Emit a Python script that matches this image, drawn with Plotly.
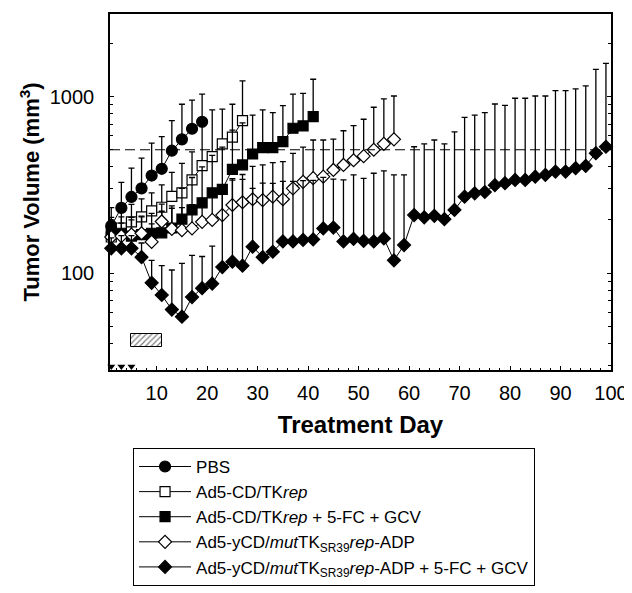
import plotly.graph_objects as go

# ---------------- data ----------------
days_pbs = list(range(1, 20, 2))
pbs_vol = [185, 234, 270, 302, 357, 390, 494, 573, 658, 721]
pbs_err = [50, 93, 123, 146, 188, 203, 237, 333, 299, 312]

days_cdtk = list(range(1, 28, 2))
cdtk_vol = [160, 180, 195, 208, 225, 236, 272, 285, 337, 406, 457, 540, 589, 731]
cdtk_err = [40, 45, 50, 55, 60, 80, 100, 134, 150, 270, 384, 309, 317, 500]

days_cdtk_drug = list(range(1, 42, 2))
cdtk_drug_vol = [172, 168, 162, 165, 168, 169, 180, 202, 228, 250, 285, 298, 387, 410,
                 473, 514, 514, 556, 662, 683, 771]
cdtk_drug_err = [35, 40, 45, 45, 50, 55, 60, 100, 120, 150, 180, 220, 260, 300,
                 314, 327, 298, 333, 371, 362, 485]

days_ycd = list(range(1, 58, 2))
ycd_vol = [160, 162, 165, 168, 150, 196, 178, 175, 179, 195, 200, 213, 243, 252, 262,
           259, 271, 262, 302, 329, 345, 352, 384, 410, 436, 460, 500, 540, 573]
ycd_err = [30, 30, 35, 40, 40, 50, 55, 60, 65, 70, 80, 90, 100, 110, 140,
           151, 152, 166, 175, 188, 223, 216, 191, 231, 249, 285, 371, 431, 436]

days_ycd_drug = list(range(1, 100, 2))
ycd_drug_vol = [138, 138, 138, 123, 88, 75, 62, 56.5, 73, 82,
                87, 108, 116, 110, 141, 123, 132, 151, 151, 154,
                155, 179, 181, 151, 156, 152, 151, 157, 118, 144,
                213, 207, 211, 202, 228, 271, 283, 288, 315, 323,
                337, 337, 352, 360, 376, 376, 393, 405, 478, 520]
ycd_drug_err = [20, 25, 25, 25, 30, 35, 42, 57, 53, 42,
                55, 200, 220, 230, 161, 200, 190, 180, 180, 180,
                180, 170, 160, 186, 204, 192, 217, 223, 242, 216,
                307, 333, 357, 338, 404, 493, 504, 524, 594, 570,
                643, 643, 657, 649, 706, 706, 713, 746, 952, 1025]

injection_days = [1, 3, 5]
injection_marker_level = 29.5
drug_start, drug_end = 5, 11
drug_bar_low, drug_bar_high = 38, 45
threshold = 500

x_tick_vals = list(range(10, 101, 10))
y_tick_vals = [100, 1000]
y_minor_vals = [30, 40, 50, 60, 70, 80, 90, 200, 300, 400, 500, 600, 700, 800, 900, 2000]

names = ["PBS",
         "Ad5-CD/TK<i>rep</i>",
         "Ad5-CD/TK<i>rep</i> + 5-FC + GCV",
         "Ad5-yCD/<i>mut</i>TK<sub>SR39</sub><i>rep</i>-ADP",
         "Ad5-yCD/<i>mut</i>TK<sub>SR39</sub><i>rep</i>-ADP + 5-FC + GCV"]

# ---------------- figure ----------------
fig = go.Figure()

def add_series(x, y, err, name, symbol, fill, size):
    fig.add_trace(go.Scatter(
        x=x, y=y, name=name, mode="lines+markers",
        line=dict(color="black", width=1),
        marker=dict(symbol=symbol, size=size, color=fill,
                    line=dict(color="black", width=1.2)),
        error_y=dict(type="data", symmetric=False, array=err,
                     arrayminus=[0] * len(err), color="black",
                     thickness=1.3, width=3),
        cliponaxis=False,
    ))

add_series(days_pbs, pbs_vol, pbs_err, names[0], "circle", "black", 11)
add_series(days_cdtk, cdtk_vol, cdtk_err, names[1], "square", "white", 10)
add_series(days_cdtk_drug, cdtk_drug_vol, cdtk_drug_err, names[2], "square", "black", 10)
add_series(days_ycd, ycd_vol, ycd_err, names[3], "diamond", "white", 10)
add_series(days_ycd_drug, ycd_drug_vol, ycd_drug_err, names[4], "diamond", "black", 10)

# drug administration period (hatched bar)
fig.add_trace(go.Bar(
    x=[(drug_start + drug_end) / 2], y=[drug_bar_high - drug_bar_low],
    base=[drug_bar_low], width=[drug_end - drug_start],
    marker=dict(color="white", line=dict(color="black", width=1),
                pattern=dict(shape="/", fgcolor="black", bgcolor="white",
                             size=4, solidity=0.3)),
    showlegend=False, hoverinfo="skip",
))

# injection days
fig.add_trace(go.Scatter(
    x=injection_days, y=[injection_marker_level] * len(injection_days),
    mode="markers", marker=dict(symbol="triangle-down", size=7, color="black"),
    showlegend=False, cliponaxis=False,
))

fig.add_hline(y=threshold, line=dict(color="black", width=1.2, dash="10px,5px"))

FONT = "Liberation Sans, Arial, sans-serif"
tick_font = dict(family=FONT, size=20, color="black")

# the page body has an 8px margin, so the figure is 8px smaller than the window
fig.update_layout(
    width=624, height=585,
    margin=dict(l=102, r=21, t=6, b=223, autoexpand=False),
    paper_bgcolor="white", plot_bgcolor="white",
    bargap=0,
    showlegend=True,
    legend=dict(x=0.046, y=-0.219, xanchor="left", yanchor="top",
                bordercolor="black", borderwidth=1, bgcolor="white",
                font=dict(family=FONT, size=17, color="black"),
                itemwidth=52, entrywidth=390, entrywidthmode="pixels",
                tracegroupgap=0),
    xaxis=dict(
        range=[0.75, 100], showgrid=False, zeroline=False, automargin=False,
        showline=True, linecolor="black", linewidth=1.5, mirror=True,
        tickmode="array", tickvals=x_tick_vals,
        ticks="inside", ticklen=4, tickcolor="black",
        minor=dict(ticks="inside", ticklen=2, dtick=2, tick0=0, tickcolor="black"),
        tickfont=tick_font, ticklabelstandoff=4,
        title=dict(text="<b>Treatment Day</b>", font=dict(family=FONT, size=24, color="black"),
                   standoff=13),
    ),
    yaxis=dict(
        type="log", range=[1.4498, 3.469], showgrid=False, zeroline=False, automargin=False,
        showline=True, linecolor="black", linewidth=1.5, mirror="ticks",
        tickmode="array", tickvals=y_tick_vals, ticktext=[str(v) for v in y_tick_vals],
        ticks="inside", ticklen=4, tickcolor="black",
        minor=dict(ticks="inside", ticklen=3, tickcolor="black",
                   tickmode="array", tickvals=y_minor_vals),
        tickfont=tick_font, ticklabelstandoff=10,
        title=dict(text="<b>Tumor Volume (mm<sup>3</sup>)</b>",
                   font=dict(family=FONT, size=22, color="black"), standoff=4),
    ),
)

fig.write_html("out.html")
